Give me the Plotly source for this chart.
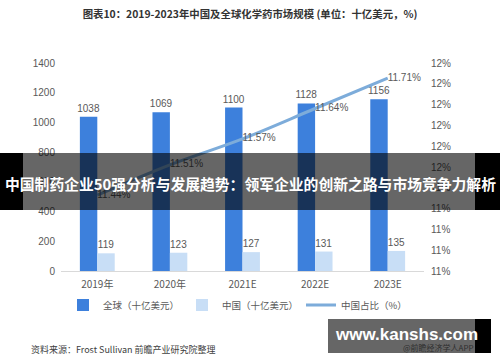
import plotly.graph_objects as go
from plotly.subplots import make_subplots

# ---- data ----
years = ["2019年", "2020年", "2021E", "2022E", "2023E"]
global_vals = [1038, 1069, 1100, 1128, 1156]
china_vals = [119, 123, 127, 131, 135]
china_share = [11.44, 11.51, 11.57, 11.64, 11.71]
left_ticks = [0, 200, 400, 600, 800, 1000, 1200, 1400]

title_text = "图表10：2019-2023年中国及全球化学药市场规模 (单位：十亿美元，%)"
banner_text = "中国制药企业50强分析与发展趋势：领军企业的创新之路与市场竞争力解析"
source_text = "资料来源：Frost Sullivan 前瞻产业研究院整理"

# ---- layout geometry (pixels) ----
W, H = 500, 362
L, R, T, B = 61, 76, 63, 91
pw = W - L - R
ph = H - T - B


def px(x):
    return (x - L) / pw


def py(y):
    return (H - B - y) / ph


FONT = "Liberation Sans, Noto Sans CJK SC, sans-serif"
CJK = "Noto Sans CJK SC, sans-serif"
GRAY = "#595959"

fig = make_subplots(specs=[[{"secondary_y": True}]])

fig.add_trace(go.Bar(
    x=years, y=global_vals, name="全球（十亿美元）",
    marker=dict(color="#3D80DC", line=dict(width=0)),
    text=[str(v) for v in global_vals], textposition="outside", constraintext="none",
    textangle=0,
    textfont=dict(size=10, color=GRAY, family=FONT), cliponaxis=False,
), secondary_y=False)

fig.add_trace(go.Bar(
    x=years, y=china_vals, name="中国（十亿美元）",
    marker=dict(color="#C8DEF6", line=dict(width=0)),
    text=[str(v) for v in china_vals], textposition="outside", constraintext="none",
    textangle=0,
    textfont=dict(size=10, color=GRAY, family=FONT), cliponaxis=False,
), secondary_y=False)

fig.add_trace(go.Scatter(
    x=years, y=china_share, name="中国占比（%）",
    mode="lines+text",
    line=dict(color="#7DACDA", width=3, shape="spline"),
    text=[f"{v:.2f}%" for v in china_share], textposition="middle right",
    textfont=dict(size=10, color=GRAY, family=FONT), cliponaxis=False,
), secondary_y=True)

fig.update_layout(
    width=W, height=H,
    margin=dict(l=L, r=R, t=T, b=B, autoexpand=False),
    paper_bgcolor="white", plot_bgcolor="white",
    barmode="group", bargap=0.52, bargroupgap=0,
    font=dict(family=FONT, size=10, color=GRAY),
    title=dict(text="<b>" + title_text + "</b>", x=0.5, xanchor="center", xref="container",
               y=1 - 14 / H, yanchor="middle", yref="container",
               font=dict(size=10.4, color="#333333", family=CJK)),
    legend=dict(orientation="h", xref="container", yref="container",
                x=63 / W, xanchor="left", y=1 - 305 / H, yanchor="middle",
                font=dict(size=9.5, color=GRAY, family=CJK), traceorder="normal",
                itemwidth=30, entrywidth=74, entrywidthmode="pixels",
                bgcolor="rgba(0,0,0,0)"),
    showlegend=True,
)

fig.update_xaxes(domain=[0, 1], showgrid=False, showline=True, linecolor="#D9D9D9", linewidth=1,
                 ticks="", automargin=False, ticklabelstandoff=4,
                 tickfont=dict(size=10, color=GRAY, family=CJK))
fig.update_yaxes(range=[0, 1400], tickvals=left_ticks, showgrid=False, showline=False,
                 zeroline=False, ticks="", automargin=False, ticklabelstandoff=5,
                 tickfont=dict(size=10, color=GRAY), secondary_y=False)
fig.update_yaxes(range=[11.265, 11.745], tickmode="linear", tick0=11.265, dtick=0.048,
                 tickformat=".0f", ticksuffix="%", showgrid=False, showline=False,
                 zeroline=False, ticks="", automargin=False, ticklabelstandoff=6,
                 tickfont=dict(size=10, color=GRAY), secondary_y=True)

shapes = [
    # overlay banner
    dict(type="rect", xref="paper", yref="paper", x0=px(0), x1=px(500), y0=py(153), y1=py(210),
         fillcolor="rgba(0,0,0,0.6)", line=dict(width=0), layer="above"),
    dict(type="rect", xref="paper", yref="paper", x0=px(0), x1=px(23), y0=py(153), y1=py(210),
         fillcolor="black", line=dict(width=0), layer="above"),
    dict(type="rect", xref="paper", yref="paper", x0=px(475), x1=px(500), y0=py(153), y1=py(210),
         fillcolor="black", line=dict(width=0), layer="above"),
    # watermark box
    dict(type="rect", xref="paper", yref="paper", x0=px(328), x1=px(475), y0=py(319), y1=py(353),
         fillcolor="rgba(0,0,0,0.6)", line=dict(width=0), layer="above"),
    dict(type="rect", xref="paper", yref="paper", x0=px(475), x1=px(491), y0=py(319), y1=py(353),
         fillcolor="black", line=dict(width=0), layer="above"),
]

annotations = [
    dict(text="<b>" + banner_text + "</b>", xref="paper", yref="paper", x=px(250), y=py(183),
         xanchor="center", yanchor="middle", showarrow=False,
         font=dict(size=14.8, color="white", family=CJK)),
    dict(text=source_text, xref="paper", yref="paper", x=px(29), y=py(349),
         xanchor="left", yanchor="middle", showarrow=False,
         font=dict(size=9, color="#404040", family=CJK)),
    dict(text="@前瞻经济学人APP", xref="paper", yref="paper", x=px(476), y=py(347),
         xanchor="right", yanchor="middle", showarrow=False,
         font=dict(size=8, color="#2E2E2E", family=CJK)),
    dict(text="<b>www.kanshs.com</b>", xref="paper", yref="paper", x=px(406), y=py(334),
         xanchor="center", yanchor="middle", showarrow=False,
         font=dict(size=17, color="white", family="Liberation Sans, sans-serif")),
]

fig.update_layout(shapes=shapes, annotations=annotations)

fig.write_html("out.html",
               config={"displayModeBar": False},
               post_script="document.body.style.margin='0';document.body.style.padding='0';")
